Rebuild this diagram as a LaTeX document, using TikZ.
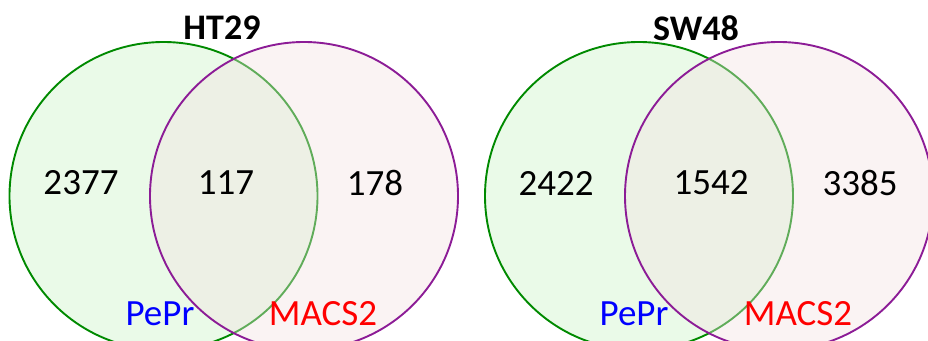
\documentclass[tikz,border=0pt]{standalone}
\usepackage{fontspec}
\setmainfont{Carlito}
\definecolor{gstroke}{RGB}{0,138,0}
\definecolor{gfill}{RGB}{234,250,232}
\definecolor{pstroke}{RGB}{140,28,150}
\definecolor{pfill}{RGB}{242,225,225}
\definecolor{labblue}{RGB}{0,0,255}
\definecolor{labred}{RGB}{255,0,0}
\tikzset{
  greenset/.style={draw=gstroke, fill=gfill, line width=1.9pt},
  purpleset/.style={draw=pstroke, fill=pfill, fill opacity=0.4, draw opacity=1, line width=1.9pt},
  title/.style={font=\fontsize{36}{40}\selectfont\bfseries, inner sep=0pt},
  count/.style={font=\fontsize{37}{40}\selectfont, inner sep=0pt},
  setlabel/.style={font=\fontsize{37}{40}\selectfont, inner sep=0pt}
}
\begin{document}
\begin{tikzpicture}[x=1pt,y=-1pt]
\useasboundingbox (0,0) rectangle (928,340);
\begin{scope}
\clip (0,0) rectangle (928,340);
% left Venn
\draw[greenset] (163.5,196) circle (154);
\draw[purpleset] (304,196) circle (154);
% right Venn
\draw[greenset] (639,196) circle (154);
\draw[purpleset] (779,196) circle (154);
\end{scope}
\node[title] (t1) at (222,28) {HT29};
\node[title] (t2) at (696,28) {SW48};
\node[count] (a1) at (81,183) {2377};
\node[count] (b1) at (226,183) {117};
\node[count] (c1) at (375,183) {178};
\node[count] (a2) at (556,183) {2422};
\node[count] (b2) at (711,183) {1542};
\node[count] (c2) at (860,183) {3385};
\node[setlabel, text=labblue] (p1) at (160,314) {PePr};
\node[setlabel, text=labred] (m1) at (323,314) {MACS2};
\node[setlabel, text=labblue] (p2) at (634,314) {PePr};
\node[setlabel, text=labred] (m2) at (798,314) {MACS2};
\end{tikzpicture}
\end{document}
